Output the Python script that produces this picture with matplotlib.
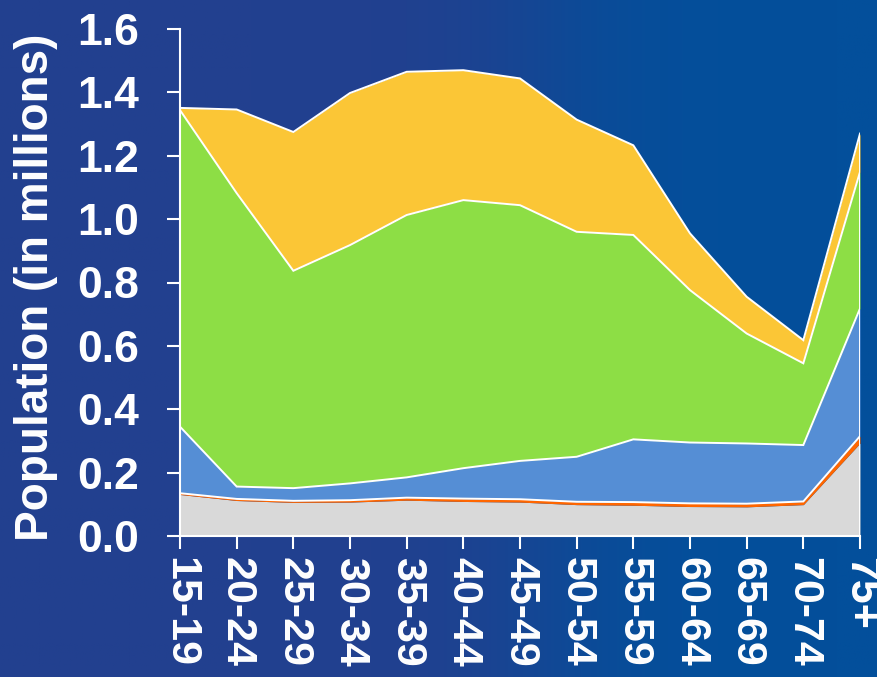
import numpy as np
import matplotlib
matplotlib.use("Agg")
import matplotlib.pyplot as plt
from matplotlib.colors import LinearSegmentedColormap

categories = ["15-19", "20-24", "25-29", "30-34", "35-39", "40-44", "45-49",
              "50-54", "55-59", "60-64", "65-69", "70-74", "75+"]
gray_vals   = [0.131, 0.112, 0.106, 0.107, 0.113, 0.109, 0.107, 0.099, 0.097, 0.093, 0.092, 0.099, 0.293]
orange_vals = [0.004, 0.005, 0.005, 0.006, 0.008, 0.009, 0.009, 0.009, 0.010, 0.010, 0.010, 0.010, 0.022]
blue_vals   = [0.210, 0.039, 0.040, 0.053, 0.064, 0.096, 0.121, 0.142, 0.198, 0.192, 0.190, 0.178, 0.403]
green_vals  = [0.999, 0.926, 0.686, 0.752, 0.828, 0.846, 0.807, 0.710, 0.645, 0.481, 0.347, 0.258, 0.431]
yellow_vals = [0.007, 0.264, 0.438, 0.480, 0.452, 0.410, 0.400, 0.354, 0.283, 0.179, 0.116, 0.073, 0.121]
yticks = [0.0, 0.2, 0.4, 0.6, 0.8, 1.0, 1.2, 1.4, 1.6]

colors = ["#D9D9D9", "#FF6600", "#558ED5", "#8DDE45", "#FBC636"]
layers = [gray_vals, orange_vals, blue_vals, green_vals, yellow_vals]

plt.rcParams['font.family'] = ['Liberation Sans', 'DejaVu Sans']

fig = plt.figure(figsize=(8.78, 6.77), dpi=100)

# background gradient
bg = fig.add_axes([0, 0, 1, 1], zorder=-10)
bg.set_axis_off()
xs = np.linspace(0, 1, 400)
t = 1 / (1 + np.exp(-(xs - 0.62) / 0.06))
grad = np.tile(t, (10, 1))
cmap = LinearSegmentedColormap.from_list("bgc", ["#22408F", "#034F9B"])
bg.imshow(grad, aspect="auto", cmap=cmap, extent=[0, 1, 0, 1], vmin=0, vmax=1)

ax = fig.add_axes([180/878, 1 - 536/677, 680/878, 507/677])
ax.patch.set_alpha(0)

x = np.arange(len(categories))
base = np.zeros(len(categories))
tops = []
for vals, c in zip(layers, colors):
    v = np.array(vals)
    ax.fill_between(x, base, base + v, color=c, linewidth=0, zorder=2)
    base = base + v
    tops.append(base.copy())

for top in tops[1:]:
    ax.plot(x, top, color="white", lw=1.4, zorder=3, solid_joinstyle="miter")
ax.vlines(x[-1], 0, tops[-1][-1], color="white", lw=1.4, zorder=3)

ax.set_xlim(x[0], x[-1])
ax.set_ylim(0, 1.6)
ax.set_xticks(x)
ax.set_xticklabels(categories, rotation=-90, fontsize=31, fontweight="bold", color="white")
ax.set_yticks(yticks)
ax.set_yticklabels([f"{v:.1f}" for v in yticks], fontsize=32, fontweight="bold", color="white")
ax.tick_params(axis="x", direction="out", length=9, width=1.5, color="white", pad=6)
ax.tick_params(axis="y", direction="out", length=9.5, width=1.5, color="white", pad=20)
for s in ["top", "right"]:
    ax.spines[s].set_visible(False)
for s in ["left", "bottom"]:
    ax.spines[s].set_color("white")
    ax.spines[s].set_linewidth(1.5)
    ax.spines[s].set_zorder(4)
ax.set_ylabel("Population (in millions)", fontsize=33, fontweight="bold", color="white",
              labelpad=14, y=0.49)

fig.savefig("out.png", dpi=100)
